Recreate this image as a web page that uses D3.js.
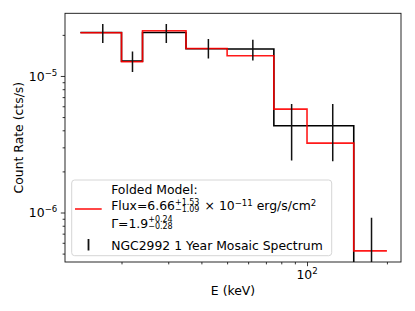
<!DOCTYPE html>
<html>
<head>
<meta charset="utf-8">
<script src="https://cdn.jsdelivr.net/npm/d3@7/dist/d3.min.js"></script>
<style>
  html, body { margin: 0; padding: 0; background: #fff; }
  svg { display: block; }
  text { font-family: "DejaVu Sans", sans-serif; fill: #000; }
</style>
</head>
<body>
<svg id="chart" width="415" height="311"></svg>
<script>
// ---- data ----
const energyEdges = [14, 20, 24, 35, 50, 75, 100, 150, 200];
const binCenters = [17, 22, 29.5, 42.5, 62.5, 87.5, 125, 175];
const countRate = [2.083e-5, 1.285e-5, 2.083e-5, 1.583e-5, 1.574e-5, 4.32e-6, 4.32e-6, 1e-8];
const rateLow   = [1.742e-5, 1.068e-5, 1.742e-5, 1.343e-5, 1.299e-5, 2.40e-6, 2.37e-6, 1e-9];
const rateHigh  = [2.40e-5, 1.512e-5, 2.40e-5, 1.864e-5, 1.842e-5, 6.23e-6, 6.23e-6, 9.15e-7];
const modelRate = [2.07e-5, 1.27e-5, 2.143e-5, 1.59e-5, 1.406e-5, 5.72e-6, 3.22e-6, 5.24e-7];
const xMajorTicks = [100];
const xMinorTicks = [20, 30, 40, 50, 60, 70, 80, 90, 200];
const yMajorTicks = [1e-6, 1e-5];
const yMinorTicks = [5e-7, 6e-7, 7e-7, 8e-7, 9e-7, 2e-6, 3e-6, 4e-6, 5e-6, 6e-6, 7e-6, 8e-6, 9e-6, 2e-5];
const xMajorLabels = [["10", "2"]];
const yMajorLabels = [["10", "\u22126"], ["10", "\u22125"]];

// ---- layout ----
const L = 65, R = 401, T = 13.3, B = 262;
const svg = d3.select("#chart");
const x = d3.scaleLog().domain([12.25, 226]).range([L, R]);
const y = d3.scaleLog().domain([4.34e-7, 2.877e-5]).range([B, T]);
const FS = 12.4, SFS = 8.6, STK = 8.0;

svg.append("clipPath").attr("id", "clip").append("rect")
  .attr("x", L).attr("y", T).attr("width", R - L).attr("height", B - T);
const plot = svg.append("g").attr("clip-path", "url(#clip)");

function stepPoints(vals) {
  const pts = [];
  vals.forEach((v, i) => { pts.push([energyEdges[i], v]); pts.push([energyEdges[i + 1], v]); });
  return pts;
}
const line = d3.line().x(d => x(d[0])).y(d => y(d[1]));

plot.append("path").attr("d", line(stepPoints(countRate)))
  .attr("fill", "none").attr("stroke", "#000").attr("stroke-width", 1.6);
plot.append("path").attr("d", line(stepPoints(modelRate)))
  .attr("fill", "none").attr("stroke", "#ff0000").attr("stroke-opacity", 0.9).attr("stroke-width", 1.6);
plot.selectAll("line.err").data(binCenters).enter().append("line")
  .attr("x1", d => x(d)).attr("x2", d => x(d))
  .attr("y1", (d, i) => y(rateLow[i])).attr("y2", (d, i) => y(rateHigh[i]))
  .attr("stroke", "#111").attr("stroke-width", 1.5);

// ---- axes ----
function styleAxis(g) {
  g.select(".domain").remove();
  g.selectAll(".tick line").attr("stroke", "#000").attr("stroke-width", 0.8);
  g.selectAll(".tick text").remove();
}
svg.append("g").attr("transform", `translate(0,${B})`)
  .call(d3.axisBottom(x).tickValues(xMinorTicks).tickSize(2.4).tickFormat(""))
  .call(styleAxis);
svg.append("g").attr("transform", `translate(0,${B})`)
  .call(d3.axisBottom(x).tickValues(xMajorTicks).tickSize(4.2).tickFormat(""))
  .call(styleAxis);
svg.append("g").attr("transform", `translate(${L},0)`)
  .call(d3.axisLeft(y).tickValues(yMinorTicks).tickSize(2.4).tickFormat(""))
  .call(styleAxis);
svg.append("g").attr("transform", `translate(${L},0)`)
  .call(d3.axisLeft(y).tickValues(yMajorTicks).tickSize(4.2).tickFormat(""))
  .call(styleAxis);

// spines
svg.append("rect").attr("x", L).attr("y", T).attr("width", R - L).attr("height", B - T)
  .attr("fill", "none").attr("stroke", "#111").attr("stroke-width", 0.9);

// tick labels
xMajorTicks.forEach((t, i) => {
  const tx = svg.append("text").attr("x", x(t)).attr("y", B + 17).attr("text-anchor", "middle")
    .style("font-size", FS + "px");
  tx.append("tspan").text(xMajorLabels[i][0]);
  tx.append("tspan").attr("dy", -5).style("font-size", SFS + "px").text(xMajorLabels[i][1]);
});
yMajorTicks.forEach((t, i) => {
  const tx = svg.append("text").attr("x", L - 7.7).attr("y", y(t) + 4.7).attr("text-anchor", "end")
    .style("font-size", FS + "px");
  tx.append("tspan").text(yMajorLabels[i][0]);
  tx.append("tspan").attr("dy", -5).style("font-size", SFS + "px").text(yMajorLabels[i][1]);
});

// axis labels
svg.append("text").attr("x", (L + R) / 2).attr("y", 294.5).attr("text-anchor", "middle")
  .style("font-size", FS + "px").text("E (keV)");
svg.append("text").attr("transform", `translate(22.7,${(T + B) / 2}) rotate(-90)`)
  .attr("text-anchor", "middle").style("font-size", FS + "px").text("Count Rate (cts/s)");

// ---- legend ----
const lg = svg.append("g");
lg.append("rect").attr("x", 71.7).attr("y", 180).attr("width", 260).attr("height", 75.7)
  .attr("rx", 3).attr("fill", "#fff").attr("fill-opacity", 0.8)
  .attr("stroke", "#d6d6d6").attr("stroke-width", 1);
lg.append("line").attr("x1", 75).attr("x2", 101.7).attr("y1", 209).attr("y2", 209)
  .attr("stroke", "#ff0000").attr("stroke-opacity", 0.9).attr("stroke-width", 1.6);
lg.append("line").attr("x1", 88.5).attr("x2", 88.5).attr("y1", 239).attr("y2", 250.5)
  .attr("stroke", "#111").attr("stroke-width", 1.8);

function mathLine(g, x0, base, parts) {
  let cx = x0;
  parts.forEach(p => {
    if (p.t !== undefined) {
      const t = g.append("text").attr("x", cx).attr("y", base).style("font-size", FS + "px")
        .style("white-space", "pre").attr("xml:space", "preserve").text(p.t);
      cx += t.node().getComputedTextLength();
    } else if (p.sub !== undefined) {
      const a = g.append("text").attr("x", cx).attr("y", base + p.supDy).style("font-size", STK + "px").text(p.sup);
      const b = g.append("text").attr("x", cx).attr("y", base + p.subDy).style("font-size", STK + "px").text(p.sub);
      cx += Math.max(a.node().getComputedTextLength(), b.node().getComputedTextLength()) + 1.2;
    } else {
      const a = g.append("text").attr("x", cx).attr("y", base + p.supDy).style("font-size", SFS + "px").text(p.sup);
      cx += a.node().getComputedTextLength();
    }
  });
}
const tx0 = 111.2;
mathLine(lg, tx0, 193.7, [{ t: "Folded Model:" }]);
mathLine(lg, tx0, 210.3, [
  { t: "Flux=6.66" }, { sup: "+1.53", sub: "\u22121.09", supDy: -5.2, subDy: 1.4 },
  { t: " \u00d7 10" }, { sup: "\u221211", supDy: -4.6 },
  { t: " erg/s/cm" }, { sup: "2", supDy: -4.6 }
]);
mathLine(lg, tx0, 227.5, [
  { t: "\u0393=1.9" }, { sup: "+0.24", sub: "\u22120.28", supDy: -5.4, subDy: 1.3 }
]);
mathLine(lg, tx0, 250, [{ t: "NGC2992 1 Year Mosaic Spectrum" }]);
</script>
</body>
</html>
